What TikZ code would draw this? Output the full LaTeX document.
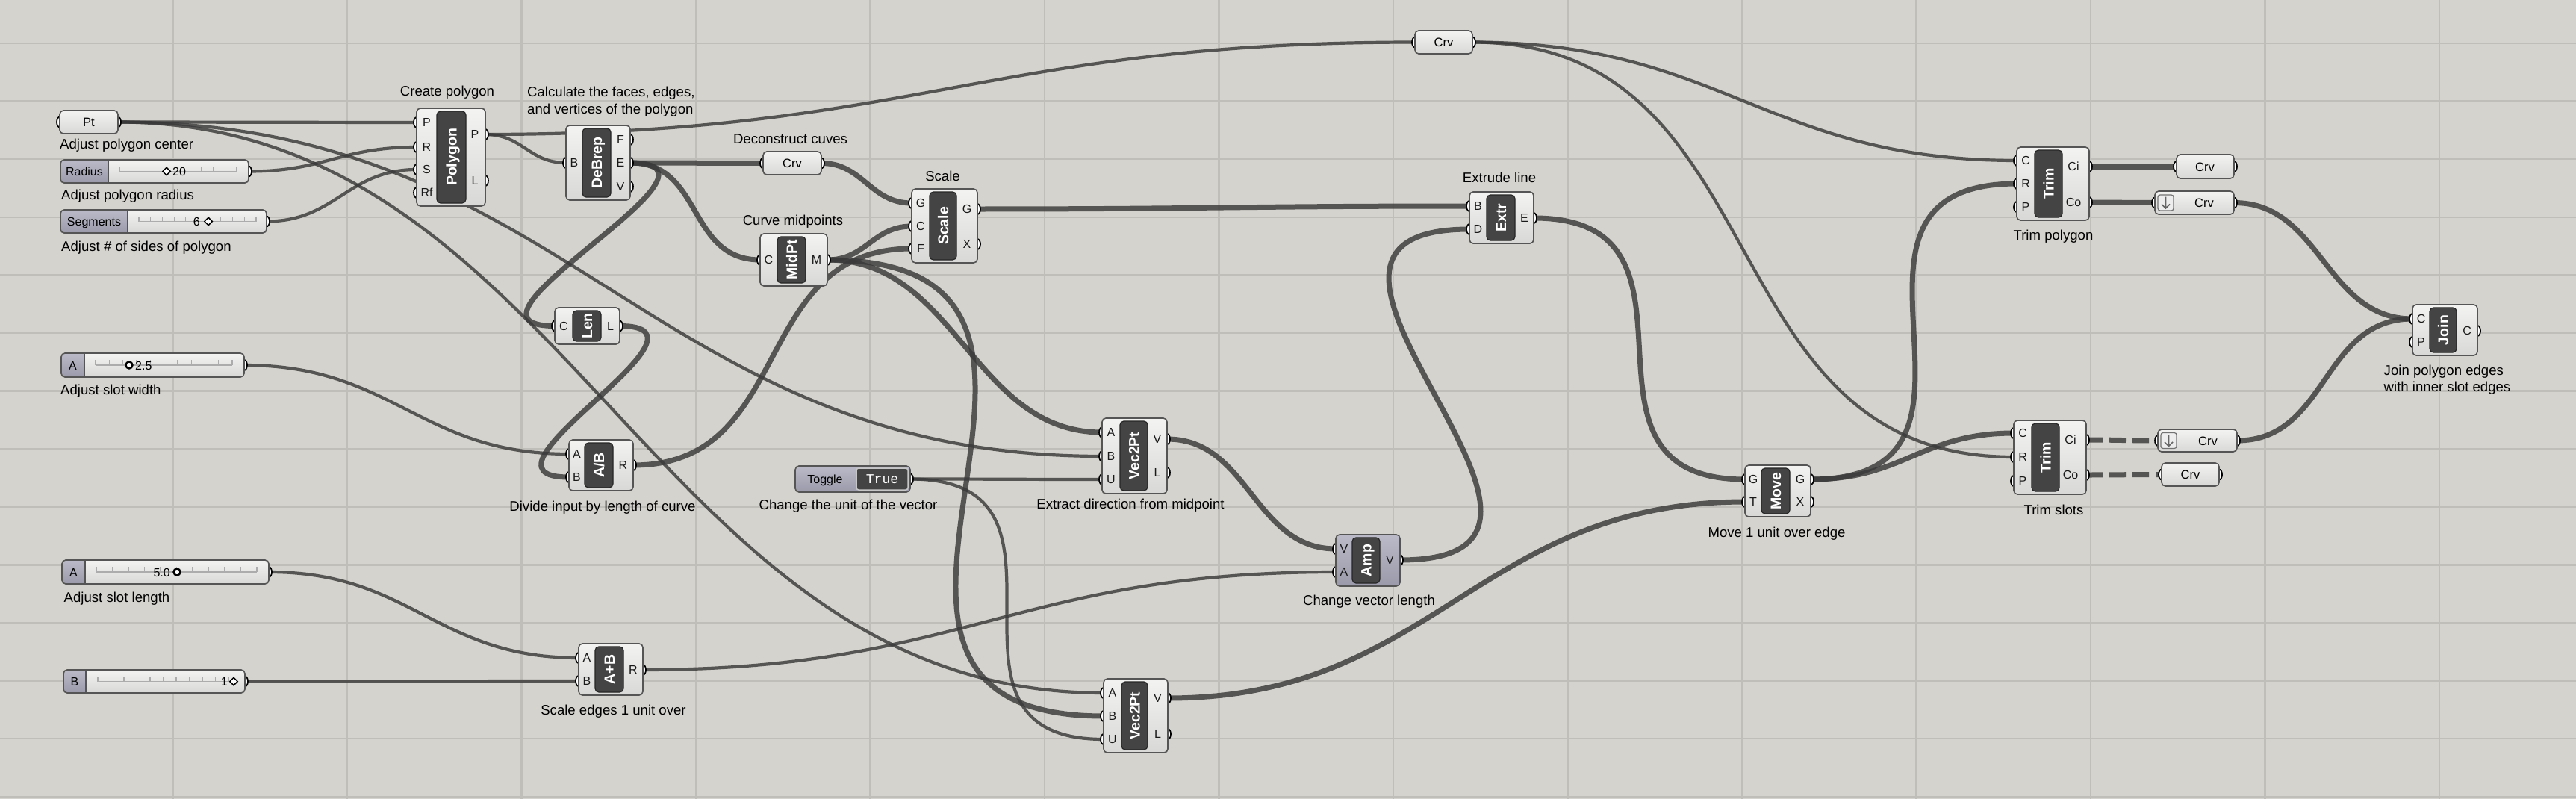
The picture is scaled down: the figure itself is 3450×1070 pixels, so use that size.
\documentclass[tikz,border=0pt]{standalone}
\usepackage{fontspec}
\setmainfont{Liberation Sans}
\newfontfamily\ghmono{Liberation Mono}
\usetikzlibrary{shapes.geometric,shadings}
\pgfdeclarelayer{gridlayer}
\pgfdeclarelayer{wirelayer}
\pgfdeclarelayer{portlayer}
\pgfsetlayers{gridlayer,wirelayer,portlayer,main}

\definecolor{bg}{RGB}{213,211,205}
\definecolor{gridc}{RGB}{192,190,184}
\definecolor{wirec}{RGB}{58,58,58}
\definecolor{bodytop}{RGB}{243,243,241}
\definecolor{bodybot}{RGB}{216,216,214}
\definecolor{edgec}{RGB}{85,85,85}
\definecolor{barc}{RGB}{68,68,68}
\definecolor{bare}{RGB}{38,38,38}
\definecolor{lavtop}{RGB}{186,186,200}
\definecolor{lavbot}{RGB}{154,154,170}
\definecolor{tickc}{RGB}{172,172,172}

\tikzset{
  x=1pt, y=-1pt,
  body/.style={draw=edgec, line width=1.6pt, rounded corners=5pt, top color=bodytop, bottom color=bodybot, inner sep=0pt, outer sep=0pt},
  lavbody/.style={body, top color=lavtop, bottom color=lavbot},
  sliderbody/.style={rounded corners=5pt, top color=bodytop, bottom color=bodybot, inner sep=0pt, outer sep=0pt},
  bar/.style={fill=barc, draw=bare, line width=1.2pt, rounded corners=5pt, rotate=90, inner sep=0pt, text=white, font=\fontsize{19.5}{22}\selectfont\bfseries, text height=14pt, text depth=0pt},
  grip/.style={ellipse, draw=black, fill=white, line width=1.7pt, minimum width=8pt, minimum height=14pt, inner sep=0pt},
  portlab/.style={font=\fontsize{16}{18}\selectfont, inner sep=0pt, text=black!90},
  paramtext/.style={font=\fontsize{16.5}{18}\selectfont, inner sep=0pt, anchor=base},
  sliderlab/.style={font=\fontsize{16}{18}\selectfont, inner sep=0pt, anchor=base},
  caption/.style={font=\fontsize{18.6}{22}\selectfont, inner sep=0pt, anchor=base},
  wire/.style={draw=wirec, draw opacity=0.82, line width=4.2pt},
  list/.style={line width=7pt},
  dashwire/.style={line width=7pt, dash pattern=on 22pt off 9pt},
  diamk/.style={diamond, draw=black, fill=white, line width=1.5pt, minimum width=11pt, minimum height=11pt, inner sep=0pt},
  ringmk/.style={circle, draw=black, fill=white, line width=2.4pt, minimum size=9pt, inner sep=0pt},
}

\newcommand{\ghgrip}[3]{\begin{pgfonlayer}{portlayer}\node[grip] (#1) at ({#2},{#3}) {};\end{pgfonlayer}}
\newcommand{\ghport}[5]{\ghgrip{#1}{#2}{#3}\node[portlab] (#1-lab) at ({#4},{#3}) {#5};}
\newcommand{\ghcomp}[9][body]{%
  \node[#1, minimum width={#5-#3}, minimum height={#6-#4}] (#2) at ({(#3+#5)/2},{(#4+#6)/2}) {};
  \node[bar, minimum width={#6-#4-8}, minimum height={#8-#7}] (#2-bar) at ({(#7+#8)/2},{(#4+#6)/2}) {#9};
}
\newcommand{\ghparam}[8]{%
  \node[body, minimum width={#4-#2}, minimum height={#5-#3}] (#1) at ({(#2+#4)/2},{(#3+#5)/2}) {};
  \node[paramtext] (#1-txt) at ({#6},{#7+6}) {#8};
  \ghgrip{#1-in}{#2}{#7}\ghgrip{#1-out}{#4}{#7}
}
\newcommand{\ghslider}[9]{%
  \node[sliderbody, minimum width={#4-#2}, minimum height={#5-#3}] (#1) at ({(#2+#4)/2},{(#3+#5)/2}) {};
  \fill[top color=lavtop, bottom color=lavbot, rounded corners=5pt] ({#2},{#3}) rectangle ({#6},{#5});
  \fill[top color=lavtop, bottom color=lavbot] ({#6-8},{#3}) rectangle ({#6},{#5});
  \draw[edgec, line width=1.2pt] ({#6},{#3}) -- ({#6},{#5});
  \draw[edgec, line width=1.6pt, rounded corners=5pt] ({#2},{#3}) rectangle ({#4},{#5});
  \node[sliderlab] (#1-lab) at ({(#2+#6)/2},{(#3+#5)/2+6}) {#7};
  \draw[tickc, line width=1.1pt] ({#8},{(#3+#5)/2}) -- ({#9},{(#3+#5)/2});
  \foreach \i in {0,...,10} {\draw[tickc, line width=1.1pt] ({#8+\i*(#9-#8)/10},{(#3+#5)/2}) -- ++(0,-7);}
  \ghgrip{#1-out}{#4}{(#3+#5)/2}
}
\newcommand{\ghwire}[4][]{\begin{pgfonlayer}{wirelayer}\draw[wire,#1] (#2.center) .. controls +(#4,0) and +(-#4,0) .. (#3.center);\end{pgfonlayer}}

\begin{document}
\begin{tikzpicture}
\useasboundingbox (0,0) rectangle (3450,1070);
\begin{pgfonlayer}{gridlayer}
\fill[bg] (0,0) rectangle (3450,1070);
\foreach \k in {0,...,13} {\draw[gridc, line width=2.5pt] ({231.5+233.5*\k},0) -- ({231.5+233.5*\k},1070);}
\foreach \k in {0,...,13} {\draw[gridc, line width=2.5pt] (0,{58+77.6*\k}) -- (3450,{58+77.6*\k});}
\end{pgfonlayer}

% ---------- inputs on the left
\ghparam{pt}{80}{148}{158}{179}{119}{163.5}{Pt}
\ghslider{radius}{81}{214}{333}{245}{145}{Radius}{160}{317}
\node[diamk] (radius-mk) at (223,229.5) {};
\node[sliderlab, anchor=base west] (radius-val) at (231,235.5) {20};
\ghslider{segments}{81}{281}{357}{312}{171}{Segments}{186}{343}
\node[sliderlab, anchor=base east] (segments-val) at (268,302.5) {6};
\node[diamk] (segments-mk) at (279,296.5) {};
\ghslider{slA}{82}{473}{327}{505}{113}{A}{128}{311}
\node[ringmk] (slA-mk) at (173,489) {};
\node[sliderlab, anchor=base west] (slA-val) at (181,495) {2.5};
\ghslider{slL}{83}{750}{360}{782}{114}{A}{129}{344}
\node[sliderlab, anchor=base east] (slL-val) at (228,772) {5.0};
\node[ringmk] (slL-mk) at (237,766) {};
\ghslider{slB}{85}{897}{328}{928}{115}{B}{131}{306}
\node[sliderlab, anchor=base east] (slB-val) at (305,918.5) {1};
\node[diamk] (slB-mk) at (313,912.5) {};

% ---------- components
\ghcomp{poly}{558}{145}{650}{276}{585}{624}{Polygon}
\ghport{poly-P}{558}{164}{571.5}{P}
\ghport{poly-R}{558}{197}{571.5}{R}
\ghport{poly-S}{558}{227}{571.5}{S}
\ghport{poly-Rf}{558}{258}{571.5}{Rf}
\ghport{poly-Po}{650}{180}{636}{P}
\ghport{poly-L}{650}{242}{636}{L}

\ghcomp{debrep}{758}{168}{844}{268}{780}{818}{DeBrep}
\ghport{debrep-B}{758}{218}{769}{B}
\ghport{debrep-F}{844}{187}{831}{F}
\ghport{debrep-E}{844}{218}{831}{E}
\ghport{debrep-V}{844}{250}{831}{V}

\ghparam{crvd}{1022}{203}{1100}{234}{1061}{218.5}{Crv}

\ghcomp{scale}{1221}{253}{1309}{352}{1245}{1281}{Scale}
\ghport{scale-G}{1221}{272}{1233}{G}
\ghport{scale-C}{1221}{303}{1233}{C}
\ghport{scale-F}{1221}{333}{1233}{F}
\ghport{scale-Go}{1309}{280}{1295}{G}
\ghport{scale-X}{1309}{327}{1295}{X}

\ghcomp{midpt}{1018}{313}{1108}{383}{1041}{1079}{MidPt}
\ghport{midpt-C}{1018}{348}{1029.5}{C}
\ghport{midpt-M}{1108}{348}{1093.5}{M}

\ghcomp{len}{743}{412}{830}{461}{767}{805}{Len}
\ghport{len-C}{743}{436.5}{755}{C}
\ghport{len-L}{830}{436.5}{817.5}{L}

\ghcomp{ab}{762}{589}{848}{657}{783}{821}{A/B}
\ghport{ab-A}{762}{608}{772.5}{A}
\ghport{ab-B}{762}{639}{772.5}{B}
\ghport{ab-R}{848}{623}{834.5}{R}

\ghcomp{apb}{775}{862}{861}{931}{797}{835}{A+B}
\ghport{apb-A}{775}{881}{786}{A}
\ghport{apb-B}{775}{912}{786}{B}
\ghport{apb-R}{861}{897}{848}{R}

% toggle
\node[lavbody, minimum width=154, minimum height=35] (toggle) at (1142,641.5) {};
\node[fill=barc, draw=white!78!black, line width=1.5pt, rounded corners=3pt, minimum width=69, minimum height=29, inner sep=0pt] (toggle-val) at (1181.5,641.5) {};
\node[sliderlab] (toggle-lab) at (1105,647.5) {Toggle};
\node[font=\fontsize{18}{20}\selectfont\ghmono, text=white, inner sep=0pt, anchor=base] (toggle-true) at (1181.5,647) {True};
\ghgrip{toggle-out}{1219}{641.5}

\ghcomp{vecA}{1476}{560}{1563}{661}{1500}{1537}{Vec2Pt}
\ghport{vecA-A}{1476}{579}{1488}{A}
\ghport{vecA-B}{1476}{611}{1488}{B}
\ghport{vecA-U}{1476}{642}{1488}{U}
\ghport{vecA-V}{1563}{588}{1550}{V}
\ghport{vecA-L}{1563}{633}{1550}{L}

\ghcomp{vecB}{1478}{909}{1564}{1008}{1502}{1537}{Vec2Pt}
\ghport{vecB-A}{1478}{928}{1490}{A}
\ghport{vecB-B}{1478}{959}{1490}{B}
\ghport{vecB-U}{1478}{990}{1490}{U}
\ghport{vecB-V}{1564}{935}{1550.5}{V}
\ghport{vecB-L}{1564}{983}{1550.5}{L}

\ghcomp[lavbody]{amp}{1789}{716}{1875}{785}{1811}{1848}{Amp}
\ghport{amp-V}{1789}{735}{1800}{V}
\ghport{amp-A}{1789}{766}{1800}{A}
\ghport{amp-Vo}{1875}{750}{1861.5}{V}

\ghparam{crvt}{1895}{41}{1972}{72}{1933.5}{56.5}{Crv}

\ghcomp{extr}{1968}{257}{2054}{326}{1991}{2029}{Extr}
\ghport{extr-B}{1968}{276}{1979.5}{B}
\ghport{extr-D}{1968}{307}{1979.5}{D}
\ghport{extr-E}{2054}{292}{2041.5}{E}

\ghcomp{move}{2337}{623}{2425}{692}{2359}{2397}{Move}
\ghport{move-G}{2337}{642}{2348}{G}
\ghport{move-T}{2337}{672}{2348}{T}
\ghport{move-Go}{2425}{642}{2411}{G}
\ghport{move-X}{2425}{672}{2411}{X}

\ghcomp{trimp}{2701}{197}{2798}{295}{2725}{2762}{Trim}
\ghport{trimp-C}{2701}{215}{2713}{C}
\ghport{trimp-R}{2701}{246}{2713}{R}
\ghport{trimp-P}{2701}{277}{2713}{P}
\ghport{trimp-Ci}{2798}{223}{2777}{Ci}
\ghport{trimp-Co}{2798}{271}{2777}{Co}

\ghcomp{trims}{2697}{563}{2794}{662}{2721}{2758}{Trim}
\ghport{trims-C}{2697}{580}{2709}{C}
\ghport{trims-R}{2697}{612}{2709}{R}
\ghport{trims-P}{2697}{644}{2709}{P}
\ghport{trims-Ci}{2794}{589}{2773}{Ci}
\ghport{trims-Co}{2794}{636}{2773}{Co}

\ghparam{crv1}{2915}{207}{2992}{239}{2953}{223}{Crv}
\ghparam{crv2}{2886}{256}{2992}{287}{2952}{271.5}{Crv}
\node[draw=black!55, fill=white!93!black, line width=1.2pt, rounded corners=3pt, minimum width=21, minimum height=21, inner sep=0pt] (crv2-icon) at (2900.5,271.5) {};
\draw[black!60, line width=1.6pt] (2900.5,263.5) -- (2900.5,279) (2895,273.5) -- (2900.5,279) -- (2906,273.5);
\ghparam{crv3}{2890}{575}{2996}{605}{2957}{590}{Crv}
\node[draw=black!55, fill=white!93!black, line width=1.2pt, rounded corners=3pt, minimum width=21, minimum height=21, inner sep=0pt] (crv3-icon) at (2904.5,590) {};
\draw[black!60, line width=1.6pt] (2904.5,582) -- (2904.5,597.5) (2899,592) -- (2904.5,597.5) -- (2910,592);
\ghparam{crv4}{2895}{620}{2972}{651}{2933.5}{635.5}{Crv}

\ghcomp{join}{3231}{408}{3318}{476}{3254}{3290}{Join}
\ghport{join-C}{3231}{427}{3242.5}{C}
\ghport{join-P}{3231}{458}{3242.5}{P}
\ghport{join-Co}{3318}{443}{3304}{C}

% ---------- captions
\node[caption, anchor=base west] (c1) at (80,199) {Adjust polygon center};
\node[caption, anchor=base west] (c2) at (82,267) {Adjust polygon radius};
\node[caption, anchor=base west] (c3) at (82,336) {Adjust \# of sides of polygon};
\node[caption] (c4) at (599,129) {Create polygon};
\node[caption, anchor=base west] (c5) at (706,130) {Calculate the faces, edges,};
\node[caption, anchor=base west] (c6) at (706,153) {and vertices of the polygon};
\node[caption] (c7) at (1058.5,192) {Deconstruct cuves};
\node[caption] (c8) at (1262.5,242) {Scale};
\node[caption] (c9) at (1062,301) {Curve midpoints};
\node[caption] (c10) at (2008,244.5) {Extrude line};
\node[caption, anchor=base west] (c11) at (81,528.5) {Adjust slot width};
\node[caption] (c12) at (807,684) {Divide input by length of curve};
\node[caption] (c13) at (1136,682) {Change the unit of the vector};
\node[caption] (c14) at (1514,681.5) {Extract direction from midpoint};
\node[caption] (c15) at (1833.5,810) {Change vector length};
\node[caption, anchor=base west] (c16) at (85.5,806.5) {Adjust slot length};
\node[caption] (c17) at (821.5,957) {Scale edges 1 unit over};
\node[caption] (c18) at (2379.5,719.5) {Move 1 unit over edge};
\node[caption] (c19) at (2750,321) {Trim polygon};
\node[caption] (c20) at (2750.5,689) {Trim slots};
\node[caption, anchor=base west] (c21) at (3192.5,502) {Join polygon edges};
\node[caption, anchor=base west] (c22) at (3192.5,524.5) {with inner slot edges};

% ---------- wires
\ghwire{pt-out}{poly-P}{60}
\ghwire{pt-out}{vecA-B}{605}
\ghwire{pt-out}{vecB-A}{606}
\ghwire{radius-out}{poly-R}{103}
\ghwire{segments-out}{poly-S}{92}
\ghwire{poly-Po}{debrep-B}{50}
\ghwire{poly-Po}{crvt-in}{572}
\ghwire{slA-out}{ab-A}{200}
\ghwire{slL-out}{apb-A}{191}
\ghwire{slB-out}{apb-B}{150}
\ghwire{apb-R}{amp-A}{427}
\ghwire{toggle-out}{vecA-U}{118}
\ghwire{toggle-out}{vecB-U}{261}
\ghwire{crvt-out}{trimp-C}{334}
\ghwire{crvt-out}{trims-R}{416}
\ghwire[list]{debrep-E}{crvd-in}{80}
\ghwire[list]{debrep-E}{midpt-C}{98}
\ghwire[list]{debrep-E}{len-C}{164}
\ghwire[list]{len-L}{ab-B}{152}
\ghwire[list]{crvd-out}{scale-G}{56}
\ghwire[list]{midpt-M}{scale-C}{52}
\ghwire[list]{ab-R}{scale-F}{218}
\ghwire[list]{midpt-M}{vecA-A}{173}
\ghwire[list]{midpt-M}{vecB-B}{458}
\ghwire[list]{scale-Go}{extr-B}{300}
\ghwire[list]{vecA-V}{amp-V}{110}
\ghwire[list]{amp-Vo}{extr-D}{332}
\ghwire[list]{extr-E}{move-G}{263}
\ghwire[list]{vecB-V}{move-T}{356}
\ghwire[list]{move-Go}{trimp-R}{297}
\ghwire[list]{move-Go}{trims-C}{125}
\ghwire[list]{trimp-Ci}{crv1-in}{50}
\ghwire[list]{trimp-Co}{crv2-in}{40}
\ghwire[list]{crv2-out}{join-C}{117}
\ghwire[list]{crv3-out}{join-C}{122}
\ghwire[dashwire]{trims-Ci}{crv3-in}{40}
\ghwire[dashwire]{trims-Co}{crv4-in}{40}
\end{tikzpicture}
\end{document}
